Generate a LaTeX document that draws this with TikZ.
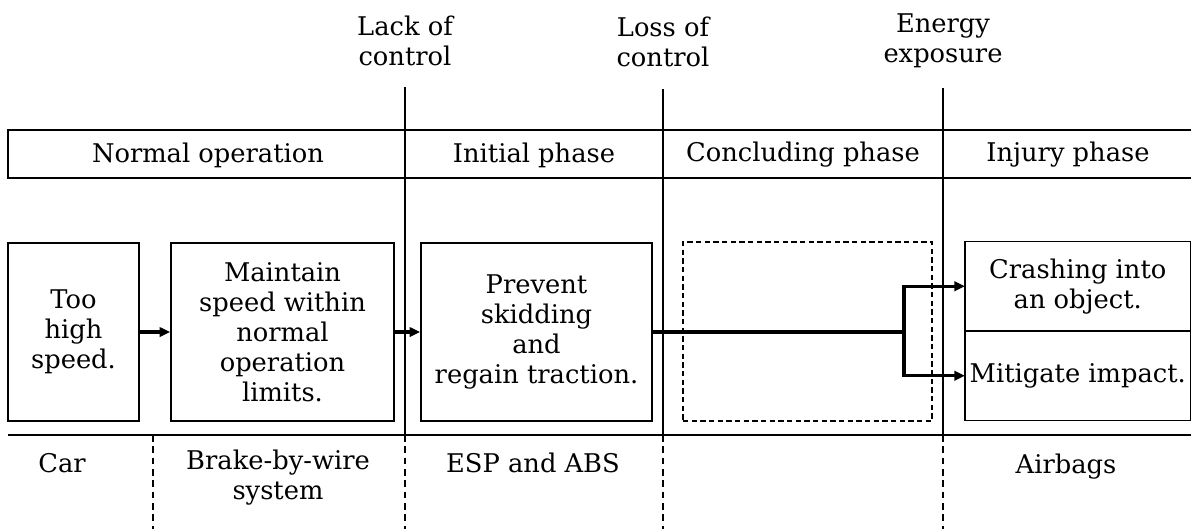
\documentclass[tikz,border=0pt]{standalone}
\usepackage{fontspec}
\setmainfont{DejaVu Serif}
\usetikzlibrary{arrows.meta}
\begin{document}
\begin{tikzpicture}[x=0.75pt,y=-0.75pt,
  txt/.style={font=\fontsize{19.3}{22.5}\selectfont, align=center, inner sep=0pt},
  stepbox/.style={draw, line width=1.2pt, align=center, inner sep=1pt,
    font=\fontsize{19.3}{22.5}\selectfont, minimum height=133.5pt},
  halfbox/.style={align=center, inner sep=1pt,
    font=\fontsize{19.3}{22.5}\selectfont, minimum width=168.75pt, minimum height=66.75pt},
  phaseline/.style={line width=1.6pt},
  sepline/.style={line width=1.2pt, dashed, dash pattern=on 5pt off 3.5pt},
  flow/.style={line width=2.5pt, -{Triangle[length=8pt,width=7pt]}},
  flowline/.style={line width=2.5pt}]
\useasboundingbox (0,0) rectangle (1191,529);

% event labels above the phase boundaries
\node[txt] (lack)   at (405,41) {Lack of\\control};
\node[txt] (loss)   at (663,42) {Loss of\\control};
\node[txt] (energy) at (943,41) {Energy\\exposure};

% phase header band
\draw[line width=1.2pt] (1200,130) -- (8,130) -- (8,178) -- (1200,178);
\node[txt] (hnorm) at (208,155) {Normal operation};
\node[txt] (hinit) at (534,155) {Initial phase};
\node[txt] (hconc) at (803,155) {Concluding phase};
\node[txt] (hinj)  at (1068,155) {Injury phase};

% phase boundaries
\coordinate (b1t) at (405,87);  \coordinate (b1m) at (405,435); \coordinate (b1b) at (405,529);
\coordinate (b2t) at (663,89);  \coordinate (b2m) at (663,435); \coordinate (b2b) at (663,529);
\coordinate (b3t) at (943,88);  \coordinate (b3m) at (943,435); \coordinate (b3b) at (943,529);
\coordinate (b0m) at (153,435); \coordinate (b0b) at (153,529);
\draw[phaseline] (b1t) -- (b1m);
\draw[phaseline] (b2t) -- (b2m);
\draw[phaseline] (b3t) -- (b3m);

% process steps
\node[stepbox, minimum width=98.25pt] (too) at (73.5,332) {Too\\high\\speed.};
\node[stepbox, minimum width=167.25pt] (maint) at (282.5,332) {Maintain\\speed within\\normal\\operation\\limits.};
\node[stepbox, minimum width=173.25pt] (prev) at (536.5,332) {Prevent\\skidding\\and\\regain traction.};
\node[draw, line width=0.9pt, dashed, dash pattern=on 4pt off 2.5pt,
  minimum width=186.75pt, minimum height=134.25pt] (conc) at (807.5,331.5) {};
\node[halfbox, anchor=south west] (crash) at (965,331) {Crashing into\\an object.};
\node[halfbox, anchor=north west] (mitig) at (965,331) {Mitigate impact.};
\draw[line width=1.2pt] (crash.north west) rectangle (mitig.south east);
\draw[line width=1.2pt] (crash.south west) -- (crash.south east);

% flow
\draw[flow] (too.east) -- (maint.west);
\draw[flow] (maint.east) -- (maint.east -| prev.west);
\coordinate (split) at (904,332);
\draw[flowline] (prev.east) -- (split);
\draw[flow] (split) |- (crash.west);
\draw[flow] (split) |- (mitig.west);

% system layer
\draw[line width=1.2pt] (8,435) -- (1200,435);
\draw[sepline] (b0m) -- (b0b);
\draw[sepline] (b1m) -- (b1b);
\draw[sepline] (b2m) -- (b2b);
\draw[sepline] (b3m) -- (b3b);
\node[txt] (car)   at (62,463)  {Car};
\node[txt] (bbw)   at (278,478) {Brake-by-wire\\system};
\node[txt] (esp)   at (533,463) {ESP and ABS};
\node[txt] (bags)  at (1066,467) {Airbags};
\end{tikzpicture}
\end{document}
